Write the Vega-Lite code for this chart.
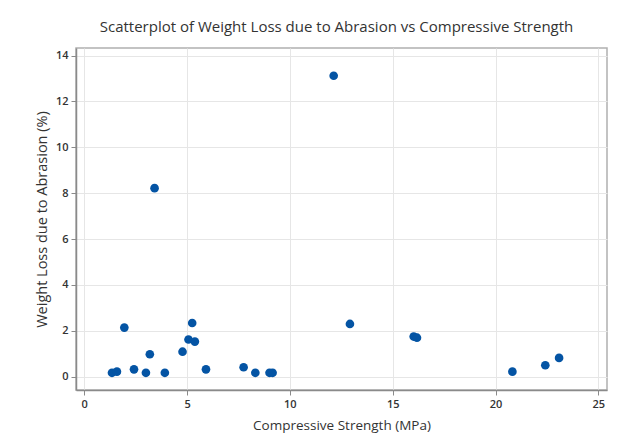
{
  "$schema": "https://vega.github.io/schema/vega-lite/v6.json",
  "autosize": {"type": "none"},
  "width": 531,
  "height": 342,
  "padding": {"left": 76, "top": 48, "right": 31, "bottom": 57},
  "background": "white",
  "title": {
    "text": "Scatterplot of Weight Loss due to Abrasion vs Compressive Strength",
    "font": "Open Sans",
    "fontSize": 15,
    "fontWeight": 500,
    "color": "#333333",
    "anchor": "middle",
    "offset": 13,
    "dx": -5
  },
  "data": {
    "values": [
      {"cs": 1.35, "wl": 0.17},
      {"cs": 1.59, "wl": 0.22},
      {"cs": 1.95, "wl": 2.14},
      {"cs": 2.42, "wl": 0.32},
      {"cs": 3.0, "wl": 0.17},
      {"cs": 3.19, "wl": 0.98},
      {"cs": 3.42, "wl": 8.22},
      {"cs": 3.92, "wl": 0.17},
      {"cs": 4.78, "wl": 1.09},
      {"cs": 5.07, "wl": 1.62},
      {"cs": 5.25, "wl": 2.34},
      {"cs": 5.38, "wl": 1.53},
      {"cs": 5.92, "wl": 0.32},
      {"cs": 7.75, "wl": 0.41},
      {"cs": 8.32, "wl": 0.17},
      {"cs": 9.01, "wl": 0.17},
      {"cs": 9.16, "wl": 0.17},
      {"cs": 12.13, "wl": 13.12},
      {"cs": 12.92, "wl": 2.3},
      {"cs": 16.02, "wl": 1.75},
      {"cs": 16.18, "wl": 1.7},
      {"cs": 20.82, "wl": 0.22},
      {"cs": 22.42, "wl": 0.5},
      {"cs": 23.09, "wl": 0.82}
    ]
  },
  "mark": {"type": "circle", "size": 75, "color": "#0454a4", "opacity": 1},
  "encoding": {
    "x": {
      "field": "cs",
      "type": "quantitative",
      "title": "Compressive Strength (MPa)",
      "scale": {"domain": [-0.4, 25.42], "nice": false, "zero": false},
      "axis": {"values": [0, 5, 10, 15, 20, 25], "titlePadding": 9, "titleFontSize": 13.5}
    },
    "y": {
      "field": "wl",
      "type": "quantitative",
      "title": "Weight Loss due to Abrasion (%)",
      "scale": {"domain": [-0.58, 14.33], "nice": false, "zero": false},
      "axis": {"values": [0, 2, 4, 6, 8, 10, 12, 14], "titlePadding": 6, "titleFontSize": 14.5}
    }
  },
  "config": {
    "view": {"stroke": "#b0b0b0", "strokeWidth": 1.5},
    "axis": {
      "gridColor": "#e6e6e6",
      "gridWidth": 1,
      "domainColor": "#8a8a8a",
      "domainWidth": 1.5,
      "tickColor": "#8a8a8a",
      "tickSize": 5,
      "labelFont": "Open Sans",
      "labelFontSize": 11,
      "labelFontWeight": 600,
      "labelColor": "#333333",
      "labelPadding": 3,
      "titleFont": "Open Sans",
      "titleFontWeight": 500,
      "titleColor": "#333333"
    }
  }
}
